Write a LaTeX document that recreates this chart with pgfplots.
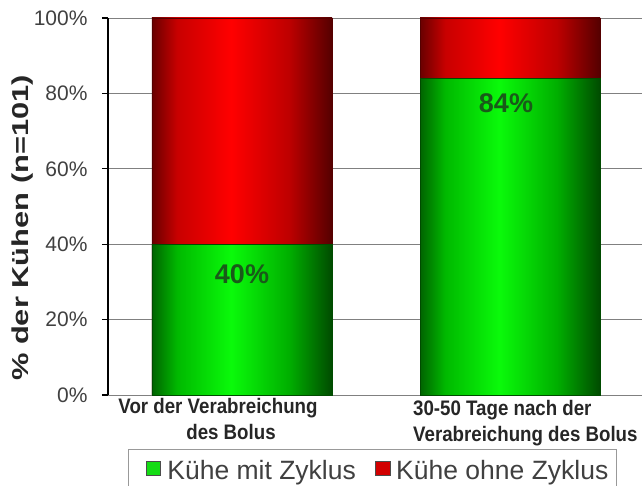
\documentclass[border=0pt]{standalone}
\usepackage{pgfplots}
\pgfplotsset{compat=1.18}
\usepackage{fontspec}
\setmainfont{Liberation Sans}
\newfontfamily\xlabfont{Liberation Sans}[FakeStretch=0.89]
\newfontfamily\ylabfont{Liberation Sans}[FakeStretch=1.34]
\definecolor{gL}{RGB}{0,100,0}
\definecolor{gA}{RGB}{0,185,0}
\definecolor{gM}{RGB}{10,250,10}
\definecolor{gB}{RGB}{0,175,0}
\definecolor{gR}{RGB}{0,75,0}
\definecolor{rL}{RGB}{105,0,0}
\definecolor{rA}{RGB}{200,0,0}
\definecolor{rM}{RGB}{255,0,0}
\definecolor{rB}{RGB}{190,0,0}
\definecolor{rR}{RGB}{85,0,0}
\definecolor{pctgreen}{RGB}{25,90,25}
\definecolor{leggreen}{RGB}{20,220,20}
\definecolor{legred}{RGB}{210,0,0}
\pgfdeclarehorizontalshading{gbar}{100bp}{color(0bp)=(gL); color(25bp)=(gL); color(32bp)=(gA); color(47bp)=(gM); color(63bp)=(gB); color(75bp)=(gR); color(100bp)=(gR)}
\pgfdeclarehorizontalshading{rbar}{100bp}{color(0bp)=(rL); color(25bp)=(rL); color(32bp)=(rA); color(47bp)=(rM); color(63bp)=(rB); color(75bp)=(rR); color(100bp)=(rR)}
\pgfplotsset{
  gbarstyle/.style={forget plot, ybar, bar shift=0pt, bar width=180pt, shade, shading=gbar, shading angle=0, draw=gR, line width=0.6pt},
  rbarstyle/.style={forget plot, ybar, bar shift=0pt, bar width=180pt, shade, shading=rbar, shading angle=0, draw=rR, line width=0.6pt},
}
\begin{document}
\begin{tikzpicture}
\path[use as bounding box] (-108pt,-91pt) rectangle (534pt,395pt);
\begin{axis}[
  at={(0pt,0pt)}, anchor=south west,
  scale only axis, width=536pt, height=377pt,
  xmin=-0.5, xmax=1.5, ymin=0, ymax=100,
  axis x line*=bottom, axis y line*=left,
  x axis line style={draw=gray, line width=0.8pt},
  y axis line style={draw=black, line width=1.6pt},
  xtick=\empty,
  ytick={0,20,40,60,80,100},
  yticklabel={\pgfmathprintnumber{\tick}\%},
  /pgf/number format/assume math mode=true,
  yticklabel style={font=\fontsize{21}{24}\selectfont, text=black!75, xshift=-11pt},
  ymajorgrids, grid style={draw=gray, line width=0.8pt},
  tick align=outside, major tick length=6pt,
  ytick style={draw=black, line width=1.2pt},
  clip=false,
  legend columns=2,
  legend cell align=left,
  legend style={at={(0.0373,-0.1432)}, anchor=north west, draw=gray!80, line width=0.8pt, fill=white,
    font=\fontsize{26.5}{30}\selectfont, text=black!75, inner xsep=6pt, inner ysep=9pt,
    /tikz/every even column/.append style={column sep=17pt}},
]
\addplot[rbarstyle] coordinates {(0,100)};
\addplot[rbarstyle] coordinates {(1,100)};
\addplot[gbarstyle] coordinates {(0,40)};
\addplot[gbarstyle] coordinates {(1,84)};
\addlegendimage{legend image code/.code={\path[draw=none, fill=none] (0pt,0pt) -- (31pt,0pt); \draw[fill=leggreen, draw=black!70, line width=0.7pt] (12pt,-5pt) rectangle (26pt,9pt);}}
\addlegendentry{Kühe mit Zyklus}
\addlegendimage{legend image code/.code={\path[draw=none, fill=none] (0pt,0pt) -- (19pt,0pt); \draw[fill=legred, draw=black!70, line width=0.7pt] (0pt,-5pt) rectangle (15pt,9pt);}}
\addlegendentry{Kühe ohne Zyklus\hspace{16pt}}
\end{axis}
\node[font=\bfseries\fontsize{27}{30}\selectfont, text=pctgreen, inner sep=0pt] at (134pt,121pt) {40\%};
\node[font=\bfseries\fontsize{27}{30}\selectfont, text=pctgreen, inner sep=0pt] at (398pt,292pt) {84\%};
\begin{scope}[every node/.style={font={\xlabfont\bfseries\fontsize{21}{24}\selectfont}, text=black!85, inner sep=0pt}]
\node[anchor=base] at (110pt,-19pt) {Vor der Verabreichung};
\node[anchor=base] at (123pt,-45pt) {des Bolus};
\node[anchor=base west] at (305pt,-21pt) {30-50 Tage nach der};
\node[anchor=base west] at (305pt,-47pt) {Verabreichung des Bolus};
\end{scope}
\node[rotate=90, font={\ylabfont\bfseries\fontsize{23}{26}\selectfont}, text=black!85] at (-85pt,167pt) {\% der Kühen (n=101)};
\end{tikzpicture}
\end{document}
